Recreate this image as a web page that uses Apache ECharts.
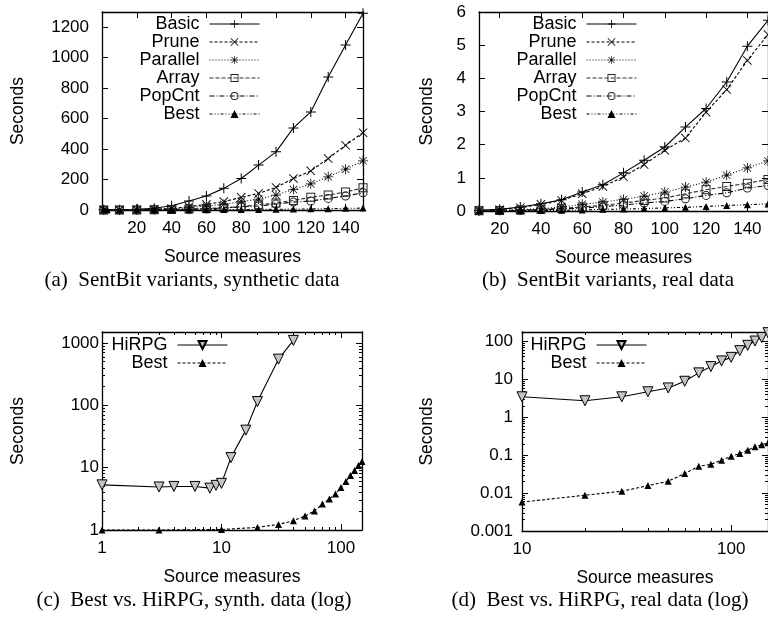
<!DOCTYPE html>
<html>
<head>
<meta charset="utf-8">
<title>SentBit variants vs HiRPG</title>
<script src="https://cdn.jsdelivr.net/npm/echarts@6/dist/echarts.min.js"></script>
<style>
html, body { margin: 0; padding: 0; background: #fff; }
#main { width: 768px; height: 617px; }
</style>
</head>
<body>
<div id="main"></div>
<script>
// ---- data (seconds) ----
var synthX = [1, 10, 20, 30, 40, 50, 60, 70, 80, 90, 100, 110, 120, 130, 140, 150];
var basicSynth    = [1, 2, 5, 11, 28, 59, 92, 142, 207, 295, 382, 539, 644, 873, 1084, 1292];
var pruneSynth    = [0.5, 1, 2, 5, 10, 22, 37, 55, 83, 109, 148, 207, 257, 338, 425, 508];
var parallelSynth = [0.3, 0.5, 1.5, 4, 8, 16, 26, 37, 55, 72, 98, 135, 172, 218, 268, 323];
var arraySynth    = [0.1, 0.3, 0.8, 1.5, 3, 6, 10, 15, 22, 35, 46, 63, 83, 98, 118, 146];
var popcntSynth   = [0.1, 0.2, 0.6, 1.3, 3, 5, 8, 13, 20, 26, 39, 52, 59, 76, 92, 113];
var bestSynthX = [1, 3, 10, 20, 30, 40, 50, 60, 70, 80, 90, 100, 110, 120, 130, 140, 150];
var bestSynth  = [1.0, 1.0, 1.02, 1.10, 1.23, 1.41, 1.68, 2.02, 2.62, 3.15, 3.79, 4.79, 5.98, 7.47, 8.98, 10.8, 12.5];
var hirpgSynthX = [1, 3, 4, 6, 8, 9, 10, 12, 16, 20, 30, 40];
var hirpgSynth  = [5.3, 4.9, 5.0, 5.0, 4.7, 5.2, 5.6, 14.5, 40, 115, 550, 1100];

var realX = [10, 20, 30, 40, 50, 60, 70, 80, 90, 100, 110, 120, 130, 140, 150];
var basicReal    = [0.02, 0.05, 0.12, 0.22, 0.34, 0.57, 0.79, 1.15, 1.53, 1.93, 2.53, 3.09, 3.89, 4.97, 5.75];
var pruneReal    = [0.02, 0.04, 0.10, 0.20, 0.32, 0.52, 0.74, 1.03, 1.40, 1.83, 2.20, 2.98, 3.66, 4.54, 5.32];
var parallelReal = [0.01, 0.02, 0.04, 0.07, 0.12, 0.20, 0.27, 0.35, 0.45, 0.57, 0.72, 0.87, 1.08, 1.30, 1.51];
var arrayReal    = [0.01, 0.015, 0.03, 0.05, 0.08, 0.12, 0.17, 0.24, 0.32, 0.39, 0.52, 0.64, 0.74, 0.84, 0.95];
var popcntReal   = [0.005, 0.01, 0.02, 0.04, 0.06, 0.09, 0.13, 0.18, 0.24, 0.29, 0.37, 0.47, 0.55, 0.69, 0.77];
var bestReal     = [0.0058, 0.0088, 0.0112, 0.0158, 0.0206, 0.033, 0.051, 0.058, 0.074, 0.094, 0.111, 0.136, 0.167, 0.19, 0.213];
var hirpgReal    = [3.5, 2.75, 3.5, 4.75, 6.0, 9.0, 15, 22, 31, 38.5, 58, 80, 104, 128, 173];

// tick labels
var linXTicks = [20, 40, 60, 80, 100, 120, 140];
var synthYTicks = [0, 200, 400, 600, 800, 1000, 1200];
var realYTicks = [0, 1, 2, 3, 4, 5, 6];
var logSynthXTicks = [1, 10, 100];
var logSynthYTicks = [1, 10, 100, 1000];
var logRealXTicks = [10, 100];
var logRealYTicks = [0.001, 0.01, 0.1, 1, 10, 100];

var captions = [
  '(a)  SentBit variants, synthetic data',
  '(b)  SentBit variants, real data',
  '(c)  Best vs. HiRPG, synth. data (log)',
  '(d)  Best vs. HiRPG, real data (log)'
];

var SANS = 'Liberation Sans';
var SERIF = 'Liberation Serif';

// gnuplot-like point types
var PLUS = 'path://M0,4.5H10V5.5H0Z M4.5,0H5.5V10H4.5Z';
var CROSS = 'path://M0.7,0L5,4.3L9.3,0L10,0.7L5.7,5L10,9.3L9.3,10L5,5.7L0.7,10L0,9.3L4.3,5L0,0.7Z';
var STAR = 'path://M0,4.6H10V5.4H0Z M4.6,0H5.4V10H4.6Z M1.5,1L5,4.5L8.5,1L9,1.5L5.5,5L9,8.5L8.5,9L5,5.5L1.5,9L1,8.5L4.5,5L1,1.5Z';
var OPENSQ = 'path://M0,0H10V10H0Z M1.1,1.1V8.9H8.9V1.1Z';
var OPENCIRC = 'path://M5,0A5,5 0 1,1 5,10A5,5 0 1,1 5,0Z M5,1.1A3.9,3.9 0 1,0 5,8.9A3.9,3.9 0 1,0 5,1.1Z';
var DOWNTRI = 'path://M0,0L10,0L5,9Z';

var styles = {
  Basic:    { symbol: PLUS, size: 10, dash: 'solid', color: '#000', bw: 0 },
  Prune:    { symbol: CROSS, size: 9, dash: [3, 2], color: '#000', bw: 0 },
  Parallel: { symbol: STAR, size: 10, dash: [1, 2], color: '#000', bw: 0 },
  Array:    { symbol: OPENSQ, size: 9, dash: [4, 2], color: '#222', bw: 0, line: '#333' },
  PopCnt:   { symbol: OPENCIRC, size: 9, dash: [5, 2, 1, 2], color: '#222', bw: 0 },
  Best:     { symbol: 'triangle', size: 7, dash: [3, 2, 1, 2, 1, 2], color: '#000', bw: 0 },
  HiRPG:    { symbol: DOWNTRI, size: 10, dash: 'solid', color: '#c4c4c4', border: '#000', bw: 1 }
};

function fmt(v) { return String(+Number(v).toPrecision(6)); }

function logMinors(min, max) {
  var out = [];
  for (var d = Math.floor(Math.log10(min)); Math.pow(10, d) < max; d++) {
    for (var k = 2; k <= 9; k++) {
      var v = +(k * Math.pow(10, d)).toPrecision(6);
      if (v > min && v < max) out.push(v);
    }
  }
  return out;
}

var grids = [
  { left: 102, top: 12, width: 261, height: 198 },
  { left: 479, top: 12, width: 290, height: 199 },
  { left: 102, top: 332, width: 260, height: 198 },
  { left: 522, top: 332, width: 246, height: 199 }
];

var xAxes = [], yAxes = [], series = [], legends = [], graphics = [];
var xMain = [], yMain = [];

function makeAxis(pos, cfg, gi, kind) {
  var main = kind === 'main';
  var minor = kind === 'minor';
  var a = {
    type: cfg.type, gridIndex: gi, position: pos,
    min: cfg.min, max: cfg.max,
    axisLine: { show: !minor, onZero: false, lineStyle: { color: '#000', width: 1.3 } },
    axisTick: { show: true, inside: true, length: minor ? 3 : 6,
                customValues: minor ? logMinors(cfg.min, cfg.max) : cfg.ticks,
                lineStyle: { color: '#000', width: 1 } },
    axisLabel: { show: main, customValues: cfg.ticks, color: '#000', fontFamily: SANS, fontSize: 17, margin: cfg.margin, formatter: fmt },
    splitLine: { show: false }
  };
  if (cfg.type === 'log') a.logBase = 10;
  if (main) {
    a.name = cfg.name;
    a.nameLocation = 'middle';
    a.nameGap = cfg.nameGap;
    a.nameTextStyle = { color: '#000', fontFamily: SANS, fontSize: 17.5 };
  }
  return a;
}

function panel(p, xc, yc) {
  xMain[p] = xAxes.length;
  yMain[p] = yAxes.length;
  xAxes.push(makeAxis('bottom', xc, p, 'main'));
  xAxes.push(makeAxis('top', xc, p, 'mirror'));
  yAxes.push(makeAxis('left', yc, p, 'main'));
  yAxes.push(makeAxis('right', yc, p, 'mirror'));
  if (xc.type === 'log') {
    xAxes.push(makeAxis('bottom', xc, p, 'minor'));
    xAxes.push(makeAxis('top', xc, p, 'minor'));
  }
  if (yc.type === 'log') {
    yAxes.push(makeAxis('left', yc, p, 'minor'));
    yAxes.push(makeAxis('right', yc, p, 'minor'));
  }
}

function addLine(p, name, xs, ys, dashOverride) {
  var s = styles[name];
  series.push({
    type: 'line', name: name,
    xAxisIndex: xMain[p], yAxisIndex: yMain[p],
    data: xs.map(function (x, i) { return [x, ys[i]]; }),
    symbol: s.symbol, symbolSize: s.size,
    lineStyle: { color: s.line || '#000', width: 1.1, type: dashOverride || s.dash },
    itemStyle: { color: s.color, borderColor: s.border || s.color, borderWidth: s.bw },
    emphasis: { disabled: true },
    z: 3
  });
}

panel(0, { type: 'value', min: 0, max: 150, ticks: linXTicks, margin: 10, name: 'Source measures', nameGap: 38 },
         { type: 'value', min: 0, max: 1300, ticks: synthYTicks, margin: 13, name: 'Seconds', nameGap: 75 });
panel(1, { type: 'value', min: 10, max: 150, ticks: linXTicks, margin: 10, name: 'Source measures', nameGap: 38 },
         { type: 'value', min: 0, max: 6, ticks: realYTicks, margin: 13, name: 'Seconds', nameGap: 43 });
panel(2, { type: 'log', min: 1, max: 150, ticks: logSynthXTicks, margin: 10, name: 'Source measures', nameGap: 38 },
         { type: 'log', min: 1, max: 1500, ticks: logSynthYTicks, margin: 3, name: 'Seconds', nameGap: 75 });
panel(3, { type: 'log', min: 10, max: 150, ticks: logRealXTicks, margin: 10, name: 'Source measures', nameGap: 38 },
         { type: 'log', min: 0.001, max: 180, ticks: logRealYTicks, margin: 9, name: 'Seconds', nameGap: 86 });

addLine(0, 'Basic', synthX, basicSynth);
addLine(0, 'Prune', synthX, pruneSynth);
addLine(0, 'Parallel', synthX, parallelSynth);
addLine(0, 'Array', synthX, arraySynth);
addLine(0, 'PopCnt', synthX, popcntSynth);
addLine(0, 'Best', bestSynthX, bestSynth);

addLine(1, 'Basic', realX, basicReal);
addLine(1, 'Prune', realX, pruneReal);
addLine(1, 'Parallel', realX, parallelReal);
addLine(1, 'Array', realX, arrayReal);
addLine(1, 'PopCnt', realX, popcntReal);
addLine(1, 'Best', realX, bestReal);

addLine(2, 'HiRPG', hirpgSynthX, hirpgSynth);
addLine(2, 'Best', bestSynthX, bestSynth, [3, 2]);
addLine(3, 'HiRPG', realX, hirpgReal);
addLine(3, 'Best', realX, bestReal, [3, 2]);

function makeLegend(right, top, names) {
  return {
    orient: 'vertical', right: right, top: top, align: 'right',
    itemWidth: 50, itemHeight: 10, itemGap: 0, padding: 0,
    selectedMode: false,
    lineStyle: { width: 1 },
    textStyle: { color: '#000', fontFamily: SANS, fontSize: 18, lineHeight: 18, padding: [0, 5, 0, 0] },
    data: names
  };
}
var sentNames = ['Basic', 'Prune', 'Parallel', 'Array', 'PopCnt', 'Best'];
var logNames = ['HiRPG', { name: 'Best', lineStyle: { type: [3, 2] } }];
legends.push(makeLegend(508, 15, sentNames));
legends.push(makeLegend(131, 15, sentNames));
legends.push(makeLegend(540, 336, logNames));
legends.push(makeLegend(121, 336, logNames));

var capPos = [[192, 280], [608, 280], [194, 600], [600, 600]];
captions.forEach(function (t, i) {
  graphics.push({
    type: 'text', x: capPos[i][0], y: capPos[i][1],
    style: { text: t, font: '21px "' + SERIF + '"', fill: '#000', textAlign: 'center', textVerticalAlign: 'middle' }
  });
});

var myChart = echarts.init(document.getElementById('main'));
myChart.setOption({
  animation: false,
  backgroundColor: '#fff',
  grid: grids,
  xAxis: xAxes,
  yAxis: yAxes,
  legend: legends,
  series: series,
  graphic: graphics
});
</script>
</body>
</html>
